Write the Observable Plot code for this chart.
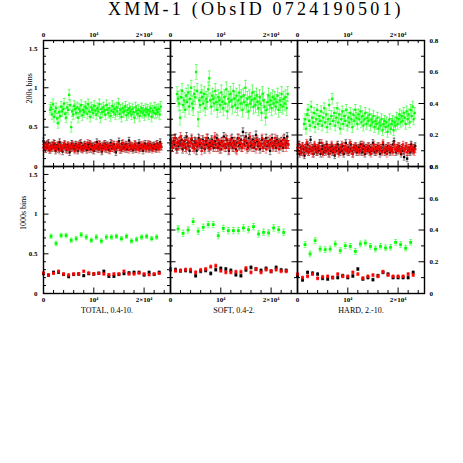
<!DOCTYPE html>
<html><head><meta charset="utf-8">
<script src="https://cdn.jsdelivr.net/npm/d3@7"></script>
<script src="https://cdn.jsdelivr.net/npm/@observablehq/plot@0.6"></script>
<style>
body{margin:0;background:#fff;}
#fig{position:relative;width:463px;height:463px;overflow:hidden;background:#fff;font-family:"Liberation Serif",serif;}
#title{position:absolute;left:108px;top:0px;font-size:18px;line-height:18px;letter-spacing:3.2px;white-space:nowrap;color:#000;font-family:"Liberation Serif",serif;}
</style></head><body>
<div id="fig"><div id="title">XMM-1 (ObsID 0724190501)</div></div>
<script>
// ---------- labels / ticks ----------
const figTitle = "XMM-1 (ObsID 0724190501)";
const bandNames = ["TOTAL, 0.4-10.", "SOFT, 0.4-2.", "HARD, 2.-10."];
const rowNames = ["200s bins", "1000s bins"];
const xTicks = [0, 10000, 20000];
const xTickLabels = ["0", "10⁴", "2×10⁴"];
const xMinorStep = 2000;
const yTicksTotal = [0, 0.5, 1, 1.5];
const yTickLabelsTotal = ["0", "0.5", "1", "1.5"];
const yTicksBand = [0, 0.2, 0.4, 0.6, 0.8];
const yTickLabelsBand = ["0", "0.2", "0.4", "0.6", "0.8"];
const xDomain = [0, 25250];

// ---------- bin timing ----------
const step200 = 200, green200Start = 1300, rb200Start = 0;
const step1000 = 1000, green1000Start = 1500, rb1000Start = 0;

// ---------- 200 s bins ----------
const totalGreen200 = [.72,.75,.66,.79,.63,.70,.74,.61,.55,.69,.64,.76,.70,.73,.80,.67,.62,.75,.72,.91,.78,.50,.70,.66,.77,.73,.68,.75,.62,.73,.70,.78,.65,.72,.69,.76,.74,.67,.79,.70,.63,.75,.72,.68,.77,.71,.66,.74,.70,.79,.62,.73,.69,.75,.71,.66,.78,.72,.68,.74,.64,.71,.77,.69,.73,.66,.75,.70,.80,.67,.72,.63,.74,.69,.71,.76,.65,.72,.68,.74,.70,.66,.73,.69,.62,.75,.71,.67,.72,.64,.70,.74,.68,.71,.65,.73,.69,.72,.66,.70,.74,.63,.71,.68,.75,.67,.72,.69,.73,.66,.76];
const totalRed200 = [.24,.27,.22,.26,.29,.23,.25,.21,.27,.24,.30,.23,.26,.22,.25,.28,.20,.24,.27,.23,.26,.29,.22,.25,.21,.27,.24,.26,.23,.28,.25,.20,.24,.27,.22,.26,.29,.23,.25,.21,.24,.27,.23,.26,.30,.22,.25,.28,.24,.21,.26,.23,.27,.25,.22,.29,.24,.26,.21,.25,.28,.23,.26,.22,.27,.24,.20,.25,.29,.23,.26,.22,.25,.28,.24,.27,.21,.25,.23,.30,.26,.22,.24,.27,.25,.21,.28,.24,.26,.23,.25,.29,.22,.26,.24,.21,.27,.25,.23,.28,.24,.26,.22,.25,.29,.23,.27,.24,.21,.26,.25,.23,.28,.24,.26,.22,.27,.25];
const totalBlack200 = [.32,.26,.22,.28,.24,.30,.21,.26,.23,.27,.25,.29,.20,.24,.27,.22,.31,.25,.23,.19,.26,.28,.24,.21,.27,.25,.18,.23,.29,.24,.26,.22,.28,.25,.20,.27,.24,.30,.22,.26,.23,.28,.25,.21,.27,.24,.29,.22,.26,.25,.20,.27,.23,.31,.25,.22,.28,.24,.19,.26,.24,.29,.22,.27,.25,.21,.26,.30,.23,.25,.28,.22,.18,.24,.27,.32,.25,.21,.29,.23,.26,.24,.28,.22,.25,.33,.27,.23,.26,.21,.24,.28,.22,.26,.25,.30,.23,.27,.24,.20,.26,.29,.23,.25,.27,.22,.28,.24,.26,.23,.27,.25,.22,.29,.24,.26,.31,.25];
const softGreen200 = [.46,.43,.40,.31,.44,.48,.39,.42,.36,.45,.41,.47,.38,.43,.50,.40,.37,.46,.44,.60,.48,.30,.42,.39,.47,.44,.40,.46,.37,.43,.41,.49,.56,.42,.38,.45,.43,.40,.48,.41,.36,.44,.42,.39,.47,.41,.37,.44,.40,.49,.35,.43,.41,.46,.42,.38,.48,.43,.39,.45,.37,.42,.47,.40,.44,.36,.45,.41,.50,.39,.43,.35,.44,.40,.42,.47,.38,.43,.39,.45,.41,.37,.44,.40,.34,.46,.42,.38,.31,.36,.41,.45,.39,.42,.37,.44,.40,.43,.38,.41,.45,.36,.42,.39,.46,.38,.43,.40,.44,.37,.46];
const softRed200 = [.14,.16,.12,.15,.18,.13,.15,.11,.16,.14,.19,.13,.15,.12,.14,.17,.11,.14,.16,.13,.15,.18,.12,.14,.11,.16,.14,.15,.13,.17,.15,.10,.14,.16,.12,.15,.18,.13,.14,.11,.14,.16,.13,.15,.19,.12,.14,.17,.13,.11,.15,.13,.16,.14,.12,.18,.14,.15,.11,.14,.17,.13,.15,.12,.16,.14,.10,.15,.18,.13,.15,.12,.14,.17,.13,.16,.11,.14,.13,.19,.15,.12,.14,.16,.14,.11,.17,.14,.15,.13,.14,.18,.12,.15,.14,.11,.16,.14,.13,.17,.14,.15,.12,.14,.18,.13,.16,.14,.11,.15,.14,.13,.17,.14,.15,.12,.16,.14];
const softBlack200 = [.17,.15,.12,.16,.14,.18,.11,.15,.13,.16,.14,.17,.11,.14,.16,.12,.19,.15,.13,.10,.15,.17,.14,.12,.16,.15,.10,.13,.18,.14,.15,.12,.17,.14,.11,.16,.14,.18,.12,.15,.13,.17,.14,.12,.16,.14,.18,.12,.15,.14,.11,.16,.13,.19,.14,.12,.17,.14,.10,.15,.14,.18,.12,.16,.14,.11,.15,.18,.13,.14,.17,.12,.22,.14,.16,.19,.15,.12,.18,.13,.15,.14,.17,.12,.15,.20,.16,.13,.15,.11,.14,.17,.12,.15,.14,.18,.13,.16,.14,.10,.15,.18,.13,.14,.16,.12,.17,.14,.15,.13,.16,.14,.12,.18,.14,.15,.19,.14];
const hardGreen200 = [.27,.30,.24,.33,.36,.29,.26,.38,.31,.28,.34,.25,.30,.36,.27,.32,.29,.35,.26,.31,.37,.28,.33,.25,.30,.39,.27,.32,.43,.29,.34,.26,.31,.37,.28,.33,.24,.30,.35,.27,.32,.29,.36,.26,.31,.28,.34,.30,.25,.33,.29,.36,.31,.27,.33,.30,.35,.28,.32,.26,.30,.34,.27,.31,.29,.33,.26,.30,.28,.32,.25,.29,.27,.31,.24,.28,.26,.30,.23,.27,.29,.25,.28,.22,.26,.30,.24,.27,.29,.23,.28,.26,.31,.27,.30,.33,.28,.32,.29,.34,.31,.27,.35,.30,.33,.28,.36,.32,.38,.30,.34];
const hardRed200 = [.12,.10,.14,.09,.11,.13,.08,.12,.10,.15,.11,.09,.13,.10,.12,.08,.11,.14,.10,.12,.09,.13,.11,.10,.15,.08,.12,.11,.09,.13,.10,.12,.08,.11,.14,.10,.12,.09,.11,.13,.10,.08,.12,.11,.14,.09,.11,.13,.10,.12,.09,.11,.15,.10,.12,.08,.11,.13,.10,.12,.11,.09,.13,.10,.12,.14,.09,.11,.10,.12,.13,.10,.11,.08,.12,.10,.14,.11,.09,.12,.11,.13,.10,.12,.09,.15,.11,.10,.12,.08,.11,.13,.10,.12,.11,.09,.14,.11,.10,.12,.13,.10,.11,.09,.12,.14,.10,.11,.13,.09,.12,.10,.11,.13,.10,.12,.09,.11];
const hardBlack200 = [.10,.14,.08,.12,.09,.13,.11,.07,.12,.10,.14,.09,.11,.17,.10,.12,.08,.13,.11,.09,.12,.10,.15,.08,.11,.13,.09,.12,.10,.14,.11,.08,.12,.10,.13,.09,.11,.07,.12,.10,.14,.11,.09,.12,.10,.13,.08,.11,.15,.10,.12,.09,.11,.14,.10,.08,.12,.11,.13,.09,.11,.12,.10,.14,.09,.11,.13,.08,.12,.10,.11,.13,.09,.12,.10,.15,.11,.09,.12,.10,.13,.11,.08,.12,.10,.14,.11,.09,.12,.10,.13,.11,.09,.12,.10,.14,.16,.11,.09,.12,.10,.13,.11,.08,.12,.10,.06,.11,.13,.05,.10,.12,.09,.14,.11,.10,.12,.13];

// ---------- 1000 s bins ----------
const totalGreen1000 = [.72,.63,.73,.73,.67,.69,.74,.71,.67,.71,.66,.71,.71,.72,.69,.72,.66,.68,.71,.72,.69,.71];
const totalRed1000 = [.258,.233,.254,.280,.246,.233,.246,.246,.280,.258,.246,.254,.246,.237,.246,.246,.280,.246,.246,.258,.246,.237,.246,.254];
const totalBlack1000 = [.25,.23,.267,.267,.24,.212,.24,.245,.225,.25,.245,.255,.28,.216,.216,.24,.25,.26,.267,.267,.233,.267,.24,.267];
const softGreen1000 = [.407,.379,.400,.453,.392,.417,.434,.434,.364,.410,.396,.396,.396,.413,.402,.421,.375,.385,.382,.413,.402,.385];
const softRed1000 = [.154,.143,.143,.150,.150,.133,.148,.154,.169,.175,.143,.133,.133,.137,.137,.160,.133,.154,.133,.150,.140,.150,.140,.140];
const softBlack1000 = [.150,.150,.143,.145,.140,.112,.140,.145,.126,.150,.158,.154,.145,.118,.112,.148,.164,.154,.145,.158,.140,.164,.148,.145];
const hardGreen1000 = [.308,.249,.333,.280,.276,.280,.312,.270,.301,.297,.265,.312,.318,.297,.280,.297,.287,.291,.322,.308,.285,.322];
const hardRed1000 = [.122,.100,.108,.122,.095,.105,.108,.100,.122,.108,.108,.133,.122,.097,.108,.116,.108,.137,.116,.108,.108,.108,.122,.116];
const hardBlack1000 = [.110,.085,.133,.128,.122,.095,.091,.100,.100,.112,.100,.110,.154,.091,.100,.087,.112,.133,.122,.100,.100,.100,.100,.133];

// ---------- error half-widths ----------
const err200 = [[.065,.04,.04],[.047,.025,.025],[.034,.02,.02]];   // [green, red, black] per band
const err1000 = [[.028,.015,.015],[.02,.01,.01],[.018,.009,.009]];

// ---------- colours ----------
const cGreen = "#00ff00", cRed = "#ff0000", cBlack = "#000000";

// ---------- layout ----------
const cols = [
  {left: 43, ymax: 1.6, ticks: yTicksTotal, labels: yTickLabelsTotal, side: "left"},
  {left: 170, ymax: 0.8, ticks: yTicksBand, labels: yTickLabelsBand, side: null},
  {left: 297, ymax: 0.8, ticks: yTicksBand, labels: yTickLabelsBand, side: "right"}
];
const rows = [{top: 40, h: 126}, {top: 166, h: 127}];
const panelW = 127;

const pts = (vals, start, step) => vals.map((v, i) => ({t: start + i * step, v}));

const dataSets = [
  [
    [pts(totalGreen200, green200Start, step200), pts(totalRed200, rb200Start, step200), pts(totalBlack200, rb200Start, step200)],
    [pts(softGreen200, green200Start, step200), pts(softRed200, rb200Start, step200), pts(softBlack200, rb200Start, step200)],
    [pts(hardGreen200, green200Start, step200), pts(hardRed200, rb200Start, step200), pts(hardBlack200, rb200Start, step200)]
  ],
  [
    [pts(totalGreen1000, green1000Start, step1000), pts(totalRed1000, rb1000Start, step1000), pts(totalBlack1000, rb1000Start, step1000)],
    [pts(softGreen1000, green1000Start, step1000), pts(softRed1000, rb1000Start, step1000), pts(softBlack1000, rb1000Start, step1000)],
    [pts(hardGreen1000, green1000Start, step1000), pts(hardRed1000, rb1000Start, step1000), pts(hardBlack1000, rb1000Start, step1000)]
  ]
];

const capSymbol = {draw(ctx, size) { const w = Math.sqrt(size / Math.PI); ctx.moveTo(-w, 0); ctx.lineTo(w, 0); }};

function seriesMarks(data, e, color, r) {
  return [
    Plot.ruleX(data, {x: "t", y1: d => d.v - e, y2: d => d.v + e, stroke: color, strokeOpacity: 0.5, strokeWidth: 1}),
    Plot.dot(data, {x: "t", y: d => d.v - e, symbol: capSymbol, r: 1.4, stroke: color, fill: "none", strokeOpacity: 0.5, strokeWidth: 1}),
    Plot.dot(data, {x: "t", y: d => d.v + e, symbol: capSymbol, r: 1.4, stroke: color, fill: "none", strokeOpacity: 0.5, strokeWidth: 1}),
    Plot.dot(data, {x: "t", y: "v", symbol: "square", r: r, fill: color, stroke: "none"})
  ];
}

const fig = document.getElementById("fig");
const ml = 40, mr = 30, mt = 14, mb = 28;
const tl = 5.5, ts = 3;

for (let r = 0; r < 2; r++) {
  for (let c = 0; c < 3; c++) {
    const col = cols[c], row = rows[r], H = row.h, W = panelW;
    const [g, red, blk] = dataSets[r][c];
    const errs = (r === 0 ? err200 : err1000)[c];
    const minorX = d3.range(0, xDomain[1], xMinorStep).filter(v => !xTicks.includes(v));
    const minorY = d3.range(1, Math.round(col.ymax * 10)).map(i => i / 10).filter(v => !col.ticks.some(t => Math.abs(t - v) < 1e-9));
    const dotR = r === 0 ? 1.3 : 1.6;
    const marks = [];
    marks.push(...seriesMarks(g, errs[0], cGreen, dotR));
    marks.push(...seriesMarks(blk, errs[2], cBlack, dotR));
    marks.push(...seriesMarks(red, errs[1], cRed, dotR));
    // inward ticks on all four sides
    marks.push(Plot.tickX(xTicks, {x: d => d, insetBottom: H - tl, stroke: "black"}));
    marks.push(Plot.tickX(xTicks, {x: d => d, insetTop: H - tl, stroke: "black"}));
    marks.push(Plot.tickX(minorX, {x: d => d, insetBottom: H - ts, stroke: "black"}));
    marks.push(Plot.tickX(minorX, {x: d => d, insetTop: H - ts, stroke: "black"}));
    marks.push(Plot.tickY(col.ticks, {y: d => d, insetRight: W - tl, stroke: "black"}));
    marks.push(Plot.tickY(col.ticks, {y: d => d, insetLeft: W - tl, stroke: "black"}));
    marks.push(Plot.tickY(minorY, {y: d => d, insetRight: W - ts, stroke: "black"}));
    marks.push(Plot.tickY(minorY, {y: d => d, insetLeft: W - ts, stroke: "black"}));
    marks.push(Plot.frame({stroke: "black", strokeWidth: 1.4}));
    // x tick labels
    marks.push(Plot.axisX(xTicks, {anchor: r === 0 ? "top" : "bottom", tickSize: 0, tickPadding: 4, label: null,
      tickFormat: d => xTickLabels[xTicks.indexOf(d)], fontWeight: "bold", fontSize: 7}));
    if (col.side) {
      marks.push(Plot.axisY(col.ticks, {anchor: col.side, tickSize: 0, tickPadding: col.side === "left" ? 6 : 5, label: null,
        tickFormat: d => col.labels[col.ticks.indexOf(d)], fontWeight: "bold", fontSize: 7}));
    }
    if (c === 0) {
      marks.push(Plot.text([rowNames[r]], {frameAnchor: "left", rotate: -90, dx: r === 0 ? -14 : -20, text: d => d, fontSize: 8, fontWeight: "normal"}));
    }
    if (r === 1) {
      marks.push(Plot.text([bandNames[c]], {frameAnchor: "bottom", dy: 17, lineAnchor: "middle", text: d => d, fontSize: 8, fontWeight: "normal"}));
    }
    const svg = Plot.plot({
      width: ml + W + mr, height: mt + H + mb,
      marginLeft: ml, marginRight: mr, marginTop: mt, marginBottom: mb,
      x: {type: "linear", domain: xDomain, axis: null},
      y: {type: "linear", domain: [0, col.ymax], axis: null},
      style: {background: "none", fontFamily: "'Liberation Serif', serif", fontSize: "7px", overflow: "visible", color: "black"},
      marks
    });
    svg.style.position = "absolute";
    svg.style.left = (col.left - ml) + "px";
    svg.style.top = (row.top - mt) + "px";
    svg.style.maxWidth = "none";
    fig.appendChild(svg);
  }
}
</script>
</body></html>
